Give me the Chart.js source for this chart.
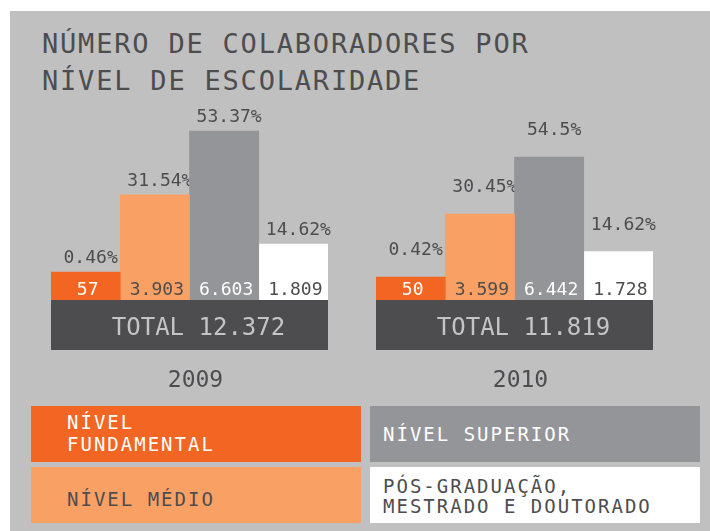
<!DOCTYPE html>
<html>
<head>
<meta charset="utf-8">
<script src="https://cdn.jsdelivr.net/npm/chart.js@4/dist/chart.umd.min.js"></script>
<style>
  body { margin: 0; width: 710px; height: 531px; background: #fff; position: relative; overflow: hidden; font-family: "DejaVu Sans Mono", monospace; }
  #panel { position: absolute; left: 10px; top: 11px; width: 700px; height: 520px; background: #c0c0c0; }
  #title { position: absolute; left: 42px; top: 25px; font-size: 27px; line-height: 37px; letter-spacing: 1.8px; color: #4d4d4f; white-space: nowrap; }
  canvas { position: absolute; }
  .box { position: absolute; width: 330px; height: 56px; }
  .box span { position: absolute; left: 36px; font-size: 19px; letter-spacing: 2px; white-space: pre-line; }
</style>
</head>
<body>
<div id="panel"></div>
<div id="title">NÚMERO DE COLABORADORES POR<br>NÍVEL DE ESCOLARIDADE</div>
<canvas id="c2009" width="317" height="300" style="left:31px; top:100px;"></canvas>
<canvas id="c2010" width="317" height="300" style="left:356px; top:100px;"></canvas>
<div id="legend"></div>
<script>
const levels = ['NÍVEL\nFUNDAMENTAL', 'NÍVEL MÉDIO', 'NÍVEL SUPERIOR', 'PÓS-GRADUAÇÃO,\nMESTRADO E DOUTORADO'];
const years = ['2009', '2010'];
const valores2009 = [57, 3903, 6603, 1809];
const valores2010 = [50, 3599, 6442, 1728];
const porcentagens2009 = [0.46, 31.54, 53.37, 14.62];
const porcentagens2010 = [0.42, 30.45, 54.5, 14.62];
const totais = [12372, 11819];

const cores = ['#f26522', '#f9a065', '#939598', '#ffffff'];
const coresTexto = ['#ffffff', '#4d4d4f', '#ffffff', '#4d4d4f'];
const fonte = '"DejaVu Sans Mono", monospace';

// 12372 -> 12.372
function milhar(v) {
    return String(v).replace(/\B(?=(\d{3})+(?!\d))/g, '.');
}

const rotulosPlugin = {
    id: 'rotulos',
    // percentuais por baixo das barras (o "%" de 31.54% fica escondido pela barra cinza)
    beforeDatasetsDraw(chart, args, opts) {
        const ctx = chart.ctx;
        ctx.save();
        ctx.font = '18px ' + fonte;
        ctx.fillStyle = '#4d4d4f';
        ctx.textAlign = 'center';
        ctx.textBaseline = 'alphabetic';
        chart.data.datasets.forEach((ds, i) => {
            const bar = chart.getDatasetMeta(i).data[0];
            ctx.fillText(opts.porcentagens[i] + '%', bar.x + 5, bar.y - opts.distancia);
        });
        ctx.restore();
    },
    afterDatasetsDraw(chart, args, opts) {
        const ctx = chart.ctx;
        const area = chart.chartArea;
        ctx.save();
        ctx.font = '18px ' + fonte;
        ctx.textAlign = 'center';
        ctx.textBaseline = 'alphabetic';
        chart.data.datasets.forEach((ds, i) => {
            const bar = chart.getDatasetMeta(i).data[0];
            ctx.fillStyle = coresTexto[i];
            ctx.fillText(milhar(ds.data[0]), bar.x + 2, area.bottom - 5);
        });

        // faixa do total + ano
        const centro = (area.left + area.right) / 2;
        ctx.fillStyle = '#4d4d4f';
        ctx.fillRect(area.left, area.bottom, area.right - area.left, 50);
        ctx.font = '24px ' + fonte;
        ctx.fillStyle = '#c4c4c4';
        ctx.fillText('TOTAL ' + milhar(opts.total), centro + 9, area.bottom + 35);
        ctx.font = '23px ' + fonte;
        ctx.fillStyle = '#4d4d4f';
        ctx.fillText(chart.data.labels[0], centro + 6, area.bottom + 87);
        ctx.restore();
    }
};

function grafico(id, ano, valores, porcentagens, total, yMin, yMax, barraMinima, distancia) {
    const ctx = document.getElementById(id).getContext('2d');
    return new Chart(ctx, {
        type: 'bar',
        data: {
            labels: [ano],
            datasets: levels.map((nivel, i) => ({
                label: nivel.replace('\n', ' '),
                data: [valores[i]],
                backgroundColor: cores[i],
                borderWidth: 0,
                base: yMin,
                minBarLength: barraMinima
            }))
        },
        options: {
            responsive: false,
            animation: false,
            layout: { padding: { left: 20, right: 20, top: 0, bottom: 100 } },
            datasets: { bar: { categoryPercentage: 1, barPercentage: 1 } },
            scales: {
                x: { display: false },
                y: { display: false, min: yMin, max: yMax }
            },
            plugins: {
                legend: { display: false },
                tooltip: { enabled: false },
                rotulos: { porcentagens: porcentagens, total: total, distancia: distancia }
            }
        },
        plugins: [rotulosPlugin]
    });
}

grafico('c2009', years[0], valores2009, porcentagens2009, totais[0], -560, 7920, 28, 9);
grafico('c2010', years[1], valores2010, porcentagens2010, totais[1], -680, 9290, 23, 22);

// legenda: 2 colunas x 2 linhas
const posicoes = [
    { left: 31, top: 406, texto: 5, linha: 22 },
    { left: 31, top: 467, texto: 21, linha: 22 },
    { left: 370, top: 406, texto: 17, linha: 22 },
    { left: 370, top: 467, texto: 9, linha: 20 }
];
const legenda = document.getElementById('legend');
levels.forEach((nivel, i) => {
    const box = document.createElement('div');
    box.className = 'box';
    box.style.left = posicoes[i].left + 'px';
    box.style.top = posicoes[i].top + 'px';
    box.style.background = cores[i];
    const span = document.createElement('span');
    span.textContent = nivel;
    span.style.top = posicoes[i].texto + 'px';
    span.style.lineHeight = posicoes[i].linha + 'px';
    span.style.color = coresTexto[i];
    if (i >= 2) span.style.left = '13px';
    box.appendChild(span);
    legenda.appendChild(box);
});
</script>
</body>
</html>
